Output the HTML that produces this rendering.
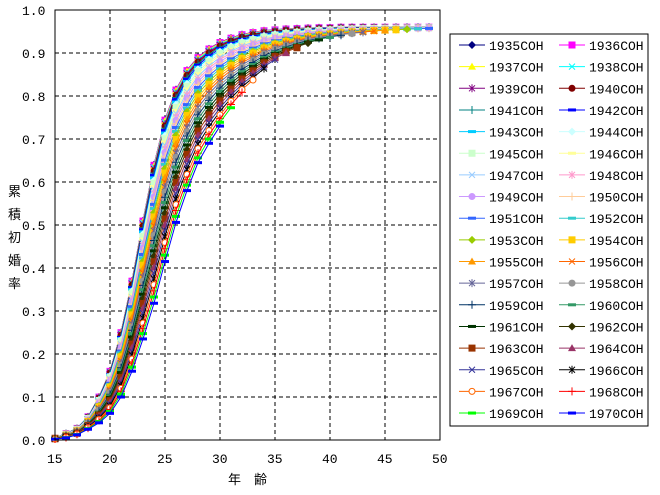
<!DOCTYPE html>
<html><head><meta charset="utf-8"><style>
body{margin:0;background:#fff;width:660px;height:490px;overflow:hidden}
text{font-family:"Liberation Mono","DejaVu Sans Mono",monospace;font-size:13px}
.j{font-family:"Liberation Sans","Noto Sans CJK JP",sans-serif;font-size:13px}
</style></head><body>
<svg id="s" width="660" height="490" xmlns="http://www.w3.org/2000/svg">
<rect x="0" y="0" width="660" height="490" fill="#fff"/>
<g id="grid"></g>
<g id="series"></g>
<rect x="55" y="10" width="385" height="430" fill="none" stroke="#000" stroke-width="1"/>
<g id="ax"></g>
<text class="j" x="228" y="484">年</text><text class="j" x="254" y="484">齢</text>
<text class="j" x="8" y="196">累</text><text class="j" x="8" y="219">積</text><text class="j" x="8" y="242">初</text><text class="j" x="8" y="265">婚</text><text class="j" x="8" y="288">率</text>
<rect x="450" y="34" width="198" height="392" fill="#fff" stroke="#000" stroke-width="1"/>
<g id="leg"></g>
</svg>
<script>
var NS="http://www.w3.org/2000/svg";
function el(p,t,a,tx){var e=document.createElementNS(NS,t);for(var k in a)e.setAttribute(k,a[k]);if(tx!=null)e.textContent=tx;document.getElementById(p).appendChild(e);return e;}
function X(a){return 55+(a-15)*11;}
function Y(v){return 440-v*430;}
for(var i=1;i<10;i++)el("grid","line",{x1:55,x2:440,y1:Y(i/10),y2:Y(i/10),stroke:"#000","stroke-dasharray":"4,3"});
for(var a=20;a<50;a+=5)el("grid","line",{x1:X(a),x2:X(a),y1:10,y2:440,stroke:"#000","stroke-dasharray":"4,3"});
for(var i=0;i<=10;i++)el("ax","text",{x:22,y:Y(i/10)+5},(i/10).toFixed(1));
for(var a=15;a<=50;a+=5)el("ax","text",{x:X(a)-8,y:463},a);
var cols=["#000080","#ff00ff","#ffff00","#00ffff","#800080","#800000","#008080","#0000ff","#00ccff","#ccffff","#ccffcc","#ffff99","#99ccff","#ff99cc","#cc99ff","#ffcc99","#3366ff","#33cccc","#99cc00","#ffcc00","#ff9900","#ff6600","#666699","#969696","#003366","#339966","#003300","#333300","#993300","#993366","#333399","#000000","#ff6600","#ff0000","#00ff00","#0000ff"];
var mk=["d","s","t","x","*","c","+","-","-","d","s","-","x","*","c","+","-","-","d","s","t","x","*","c","+","-","-","d","s","t","x","*","o","+","-","-"];
function marker(g,t,x,y,c){
 if(t=="d")el(g,"path",{d:"M"+x+" "+(y-4)+"l4 4l-4 4l-4-4z",fill:c});
 else if(t=="s")el(g,"rect",{x:x-3.5,y:y-3.5,width:7,height:7,fill:c});
 else if(t=="t")el(g,"path",{d:"M"+x+" "+(y-4)+"l4 7h-8z",fill:c});
 else if(t=="c")el(g,"circle",{cx:x,cy:y,r:3.5,fill:c});
 else if(t=="o")el(g,"circle",{cx:x,cy:y,r:3,fill:"#fff",stroke:c});
 else if(t=="x")el(g,"path",{d:"M"+(x-3)+" "+(y-3)+"l6 6m0-6l-6 6",stroke:c});
 else if(t=="*")el(g,"path",{d:"M"+(x-3)+" "+(y-3)+"l6 6m0-6l-6 6M"+x+" "+(y-4)+"v8",stroke:c});
 else if(t=="+")el(g,"path",{d:"M"+(x-4)+" "+y+"h8M"+x+" "+(y-4)+"v8",stroke:c});
 else el(g,"rect",{x:x-4,y:y-1.5,width:8,height:3,fill:c});
}
var TOPV=[0.005,0.015,0.027,0.054,0.1,0.16,0.25,0.37,0.51,0.64,0.745,0.815,0.86,0.89,0.91,0.925,0.935,0.943,0.948,0.952,0.954,0.956,0.957,0.958,0.959,0.959,0.96,0.96,0.96,0.96,0.96,0.96,0.96,0.96,0.96];
var BOTV=[0.002,0.005,0.012,0.025,0.04,0.062,0.1,0.16,0.235,0.318,0.415,0.506,0.58,0.645,0.69,0.73,0.765,0.795,0.82,0.845,0.865,0.88,0.893,0.905,0.913,0.92,0.926,0.931,0.935,0.939,0.942,0.944,0.946,0.948,0.95];
for(var k=0;k<36;k++){
 var c=1935+k,f=k/35,w=Math.pow(f,1.6),maxA=Math.min(49,2000-c);
 var pts=[];
 for(var a=15;a<=maxA;a++){var i=a-15;var v=TOPV[i]*(1-w)+BOTV[i]*w;pts.push([X(a),Y(v)]);}
 el("series","polyline",{points:pts.map(function(p){return p.join(",")}).join(" "),fill:"none",stroke:cols[k],"stroke-width":1});
 pts.forEach(function(p){marker("series",mk[k],p[0],p[1],cols[k]);});
 var col=k%2,row=Math.floor(k/2),lx=459+col*100,ly=45+row*21.65;
 el("leg","line",{x1:lx,x2:lx+26,y1:ly,y2:ly,stroke:cols[k]});
 marker("leg",mk[k],lx+13,ly,cols[k]);
 el("leg","text",{x:lx+30,y:ly+5},c+"COH");
}
</script>
</body></html>
